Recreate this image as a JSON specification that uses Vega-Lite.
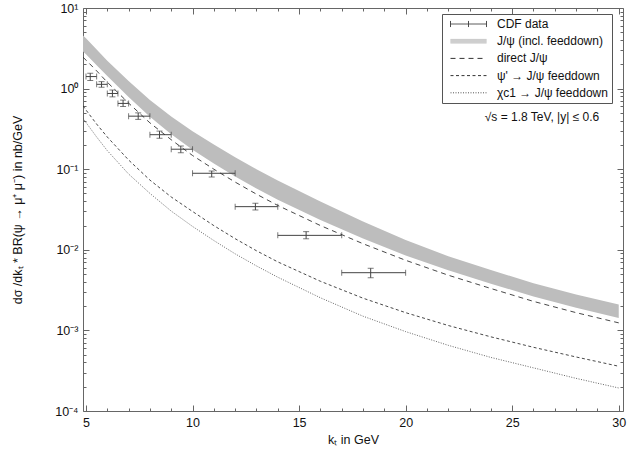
{
  "$schema": "https://vega.github.io/schema/vega-lite/v6.json",
  "width": 540,
  "height": 403,
  "autosize": "none",
  "padding": {"left": 83, "top": 8, "right": 5, "bottom": 39},
  "background": "white",
  "config": {
    "font": "Liberation Sans",
    "view": {"stroke": "#666", "strokeWidth": 1},
    "axis": {"grid": false, "domain": false, "tickColor": "#666", "labelColor": "#111", "titleColor": "#111", "labelFontSize": 12.5, "titleFontSize": 12.5, "titleFontWeight": "normal", "labelFont": "Liberation Sans", "titleFont": "Liberation Sans"}
  },
  "datasets": {
    "band": [
      {"x": 4.86, "lo": 2.88, "hi": 4.57},
      {"x": 5, "lo": 2.66, "hi": 4.22},
      {"x": 5.5, "lo": 1.95, "hi": 3.05},
      {"x": 6, "lo": 1.43, "hi": 2.21},
      {"x": 7, "lo": 0.785, "hi": 1.245},
      {"x": 8, "lo": 0.447, "hi": 0.724},
      {"x": 9, "lo": 0.272, "hi": 0.452},
      {"x": 10, "lo": 0.174, "hi": 0.295},
      {"x": 11, "lo": 0.1175, "hi": 0.2018},
      {"x": 12, "lo": 0.0813, "hi": 0.141},
      {"x": 13, "lo": 0.0575, "hi": 0.100},
      {"x": 14, "lo": 0.0417, "hi": 0.0724},
      {"x": 16, "lo": 0.0234, "hi": 0.0398},
      {"x": 18, "lo": 0.0138, "hi": 0.0224},
      {"x": 20, "lo": 0.00851, "hi": 0.0132},
      {"x": 22, "lo": 0.00556, "hi": 0.00832},
      {"x": 24, "lo": 0.00380, "hi": 0.00562},
      {"x": 26, "lo": 0.00263, "hi": 0.00385},
      {"x": 28, "lo": 0.00191, "hi": 0.00279},
      {"x": 30, "lo": 0.00143, "hi": 0.00209}
    ],
    "curves": [
      {"series": "direct J/ψ", "x": 4.86, "y": 2.45},
      {"series": "direct J/ψ", "x": 5, "y": 2.26},
      {"series": "direct J/ψ", "x": 5.5, "y": 1.66},
      {"series": "direct J/ψ", "x": 6, "y": 1.20},
      {"series": "direct J/ψ", "x": 7, "y": 0.661},
      {"series": "direct J/ψ", "x": 8, "y": 0.376},
      {"series": "direct J/ψ", "x": 9, "y": 0.232},
      {"series": "direct J/ψ", "x": 10, "y": 0.148},
      {"series": "direct J/ψ", "x": 11, "y": 0.100},
      {"series": "direct J/ψ", "x": 12, "y": 0.0692},
      {"series": "direct J/ψ", "x": 13, "y": 0.0490},
      {"series": "direct J/ψ", "x": 14, "y": 0.0355},
      {"series": "direct J/ψ", "x": 16, "y": 0.0200},
      {"series": "direct J/ψ", "x": 18, "y": 0.0119},
      {"series": "direct J/ψ", "x": 20, "y": 0.00741},
      {"series": "direct J/ψ", "x": 22, "y": 0.00484},
      {"series": "direct J/ψ", "x": 24, "y": 0.00331},
      {"series": "direct J/ψ", "x": 26, "y": 0.00229},
      {"series": "direct J/ψ", "x": 28, "y": 0.00166},
      {"series": "direct J/ψ", "x": 30, "y": 0.00124},
      {"series": "ψ' → J/ψ feeddown", "x": 4.86, "y": 0.61},
      {"series": "ψ' → J/ψ feeddown", "x": 5, "y": 0.543},
      {"series": "ψ' → J/ψ feeddown", "x": 5.5, "y": 0.363},
      {"series": "ψ' → J/ψ feeddown", "x": 6, "y": 0.251},
      {"series": "ψ' → J/ψ feeddown", "x": 7, "y": 0.130},
      {"series": "ψ' → J/ψ feeddown", "x": 8, "y": 0.0733},
      {"series": "ψ' → J/ψ feeddown", "x": 9, "y": 0.0452},
      {"series": "ψ' → J/ψ feeddown", "x": 10, "y": 0.0299},
      {"series": "ψ' → J/ψ feeddown", "x": 11, "y": 0.01995},
      {"series": "ψ' → J/ψ feeddown", "x": 12, "y": 0.01374},
      {"series": "ψ' → J/ψ feeddown", "x": 13, "y": 0.00973},
      {"series": "ψ' → J/ψ feeddown", "x": 14, "y": 0.00708},
      {"series": "ψ' → J/ψ feeddown", "x": 16, "y": 0.00407},
      {"series": "ψ' → J/ψ feeddown", "x": 18, "y": 0.00251},
      {"series": "ψ' → J/ψ feeddown", "x": 20, "y": 0.00166},
      {"series": "ψ' → J/ψ feeddown", "x": 22, "y": 0.00115},
      {"series": "ψ' → J/ψ feeddown", "x": 24, "y": 0.000832},
      {"series": "ψ' → J/ψ feeddown", "x": 26, "y": 0.000617},
      {"series": "ψ' → J/ψ feeddown", "x": 28, "y": 0.000468},
      {"series": "ψ' → J/ψ feeddown", "x": 30, "y": 0.000359},
      {"series": "χc1 → J/ψ feeddown", "x": 4.86, "y": 0.427},
      {"series": "χc1 → J/ψ feeddown", "x": 5, "y": 0.380},
      {"series": "χc1 → J/ψ feeddown", "x": 5.5, "y": 0.251},
      {"series": "χc1 → J/ψ feeddown", "x": 6, "y": 0.170},
      {"series": "χc1 → J/ψ feeddown", "x": 7, "y": 0.0871},
      {"series": "χc1 → J/ψ feeddown", "x": 8, "y": 0.0501},
      {"series": "χc1 → J/ψ feeddown", "x": 9, "y": 0.0302},
      {"series": "χc1 → J/ψ feeddown", "x": 10, "y": 0.0195},
      {"series": "χc1 → J/ψ feeddown", "x": 11, "y": 0.01303},
      {"series": "χc1 → J/ψ feeddown", "x": 12, "y": 0.00891},
      {"series": "χc1 → J/ψ feeddown", "x": 13, "y": 0.00631},
      {"series": "χc1 → J/ψ feeddown", "x": 14, "y": 0.00457},
      {"series": "χc1 → J/ψ feeddown", "x": 16, "y": 0.00254},
      {"series": "χc1 → J/ψ feeddown", "x": 18, "y": 0.00150},
      {"series": "χc1 → J/ψ feeddown", "x": 20, "y": 0.000966},
      {"series": "χc1 → J/ψ feeddown", "x": 22, "y": 0.000653},
      {"series": "χc1 → J/ψ feeddown", "x": 24, "y": 0.000462},
      {"series": "χc1 → J/ψ feeddown", "x": 26, "y": 0.000343},
      {"series": "χc1 → J/ψ feeddown", "x": 28, "y": 0.000254},
      {"series": "χc1 → J/ψ feeddown", "x": 30, "y": 0.000193}
    ],
    "cdf": [
      {"x": 5.2, "xlo": 5.0, "xhi": 5.5, "y": 1.41, "ylo": 1.26, "yhi": 1.55},
      {"x": 5.73, "xlo": 5.5, "xhi": 6.0, "y": 1.13, "ylo": 1.04, "yhi": 1.22},
      {"x": 6.24, "xlo": 6.0, "xhi": 6.5, "y": 0.87, "ylo": 0.79, "yhi": 0.96},
      {"x": 6.74, "xlo": 6.5, "xhi": 7.0, "y": 0.655, "ylo": 0.60, "yhi": 0.72},
      {"x": 7.45, "xlo": 7.0, "xhi": 8.0, "y": 0.455, "ylo": 0.415, "yhi": 0.50},
      {"x": 8.45, "xlo": 8.0, "xhi": 9.0, "y": 0.268, "ylo": 0.242, "yhi": 0.297},
      {"x": 9.45, "xlo": 9.0, "xhi": 10.0, "y": 0.177, "ylo": 0.160, "yhi": 0.194},
      {"x": 10.9, "xlo": 10.0, "xhi": 12.0, "y": 0.089, "ylo": 0.080, "yhi": 0.095},
      {"x": 12.95, "xlo": 12.0, "xhi": 14.0, "y": 0.0343, "ylo": 0.0312, "yhi": 0.0378},
      {"x": 15.33, "xlo": 14.0, "xhi": 17.0, "y": 0.0151, "ylo": 0.0137, "yhi": 0.0168},
      {"x": 18.36, "xlo": 17.0, "xhi": 20.0, "y": 0.0052, "ylo": 0.0045, "yhi": 0.0059}
    ],
    "note": [
      {"x": 26.4, "y": 0.445, "label": "√s = 1.8 TeV, |y|  ≤ 0.6"}
    ]
  },
  "resolve": {"axis": {"x": "independent", "y": "independent"}},
  "layer": [
    {
      "data": {"name": "band"},
      "mark": {"type": "area", "color": "#bdbdbd", "clip": true},
      "encoding": {
        "x": {"field": "x", "type": "quantitative",
          "scale": {"domain": [4.86, 30.2], "nice": false, "zero": false},
          "axis": {"orient": "bottom", "values": [5, 10, 15, 20, 25, 30], "tickSize": -6, "labelPadding": 11, "title": "kₜ  in GeV", "titlePadding": 5}},
        "y": {"field": "hi", "type": "quantitative",
          "scale": {"type": "log", "domain": [0.0001, 10], "nice": false},
          "axis": {"orient": "left", "values": [0.0001, 0.001, 0.01, 0.1, 1, 10], "tickSize": -6, "labelPadding": 11,
            "labelExpr": "datum.value >= 5 ? '10¹' : datum.value >= 0.5 ? '10⁰' : datum.value >= 0.05 ? '10⁻¹' : datum.value >= 0.005 ? '10⁻²' : datum.value >= 0.0005 ? '10⁻³' : '10⁻⁴'",
            "title": "dσ /dkₜ * BR(ψ → μ⁺ μ⁻) in nb/GeV", "titlePadding": 30}},
        "y2": {"field": "lo"}
      }
    },
    {
      "data": {"name": "cdf"},
      "mark": {"type": "rule", "color": "#444", "strokeWidth": 1},
      "encoding": {
        "x": {"field": "xlo", "type": "quantitative",
          "axis": {"orient": "bottom", "values": [5,6,7,8,9,10,11,12,13,14,15,16,17,18,19,20,21,22,23,24,25,26,27,28,29,30], "tickSize": -3, "labels": false, "title": null}},
        "x2": {"field": "xhi"},
        "y": {"field": "y", "type": "quantitative",
          "axis": {"orient": "left", "values": [0.0002,0.0003,0.0004,0.0005,0.0006,0.0007,0.0008,0.0009,0.002,0.003,0.004,0.005,0.006,0.007,0.008,0.009,0.02,0.03,0.04,0.05,0.06,0.07,0.08,0.09,0.2,0.3,0.4,0.5,0.6,0.7,0.8,0.9,2,3,4,5,6,7,8,9], "tickSize": -3, "labels": false, "title": null}}
      }
    },
    {
      "data": {"name": "cdf"},
      "mark": {"type": "rule", "color": "#444", "strokeWidth": 1},
      "encoding": {
        "x": {"field": "x", "type": "quantitative",
          "axis": {"orient": "top", "values": [5, 10, 15, 20, 25, 30], "tickSize": -6, "labels": false, "title": null}},
        "y": {"field": "ylo", "type": "quantitative",
          "axis": {"orient": "right", "values": [0.0001, 0.001, 0.01, 0.1, 1, 10], "tickSize": -6, "labels": false, "title": null}},
        "y2": {"field": "yhi"}
      }
    },
    {
      "data": {"name": "cdf"},
      "mark": {"type": "tick", "orient": "horizontal", "color": "#444", "size": 6, "thickness": 1},
      "encoding": {
        "x": {"field": "x", "type": "quantitative",
          "axis": {"orient": "top", "values": [5,6,7,8,9,10,11,12,13,14,15,16,17,18,19,20,21,22,23,24,25,26,27,28,29,30], "tickSize": -3, "labels": false, "title": null}},
        "y": {"field": "ylo", "type": "quantitative",
          "axis": {"orient": "right", "values": [0.0002,0.0003,0.0004,0.0005,0.0006,0.0007,0.0008,0.0009,0.002,0.003,0.004,0.005,0.006,0.007,0.008,0.009,0.02,0.03,0.04,0.05,0.06,0.07,0.08,0.09,0.2,0.3,0.4,0.5,0.6,0.7,0.8,0.9,2,3,4,5,6,7,8,9], "tickSize": -3, "labels": false, "title": null}}
      }
    },
    {
      "data": {"name": "cdf"},
      "mark": {"type": "tick", "orient": "horizontal", "color": "#444", "size": 6, "thickness": 1},
      "encoding": {
        "x": {"field": "x", "type": "quantitative", "axis": null},
        "y": {"field": "yhi", "type": "quantitative", "axis": null}
      }
    },
    {
      "data": {"name": "cdf"},
      "mark": {"type": "tick", "orient": "vertical", "color": "#444", "size": 6, "thickness": 1},
      "encoding": {
        "x": {"field": "xlo", "type": "quantitative", "axis": null},
        "y": {"field": "y", "type": "quantitative", "axis": null}
      }
    },
    {
      "data": {"name": "cdf"},
      "mark": {"type": "tick", "orient": "vertical", "color": "#444", "size": 6, "thickness": 1},
      "encoding": {
        "x": {"field": "xhi", "type": "quantitative", "axis": null},
        "y": {"field": "y", "type": "quantitative", "axis": null}
      }
    },
    {
      "data": {"name": "curves"},
      "mark": {"type": "line", "strokeWidth": 0.9, "clip": true},
      "encoding": {
        "x": {"field": "x", "type": "quantitative", "axis": null},
        "y": {"field": "y", "type": "quantitative", "axis": null},
        "color": {"field": "series", "type": "nominal",
          "scale": {"domain": ["CDF data", "J/ψ (incl. feeddown)", "direct J/ψ", "ψ' → J/ψ feeddown", "χc1 → J/ψ feeddown"], "range": ["#444", "#bdbdbd", "#333", "#333", "#555"]},
          "legend": {"title": null, "orient": "none", "legendX": 359, "legendY": 6, "padding": 4, "strokeColor": "#555", "fillColor": "white",
            "clipHeight": 12, "rowPadding": 5.2, "symbolOffset": 4, "symbolSize": 1296, "labelOffset": 10,
            "labelFont": "Liberation Sans", "labelFontSize": 12, "labelColor": "#111", "labelLimit": 300,
            "symbolStrokeWidth": 1,
            "symbolType": {"expr": "datum.index == 0 ? 'M-1,0H1M-1,-0.17V0.17M1,-0.17V0.17M0,-0.17V0.17' : datum.index == 1 ? 'M-1,-0.1H1M-1,-0.05H1M-1,0H1M-1,0.05H1M-1,0.1H1' : 'stroke'"},
            "symbolDash": {"expr": "datum.index == 2 ? [5,4] : datum.index == 3 ? [3,2.5] : datum.index == 4 ? [1,1.5] : [1,0]"}}},
        "strokeDash": {"field": "series", "type": "nominal",
          "scale": {"domain": ["CDF data", "J/ψ (incl. feeddown)", "direct J/ψ", "ψ' → J/ψ feeddown", "χc1 → J/ψ feeddown"], "range": [[1, 0], [1, 0], [5, 4], [3, 2.5], [1, 1.5]]},
          "legend": null}
      }
    },
    {
      "data": {"name": "note"},
      "mark": {"type": "text", "font": "Liberation Sans", "fontSize": 12, "color": "#111", "align": "center", "baseline": "middle"},
      "encoding": {
        "x": {"field": "x", "type": "quantitative", "axis": null},
        "y": {"field": "y", "type": "quantitative", "axis": null},
        "text": {"field": "label"}
      }
    }
  ]
}
